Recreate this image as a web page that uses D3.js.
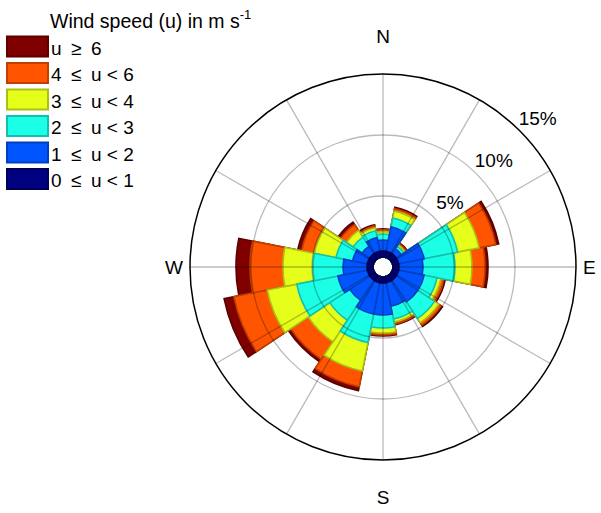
<!DOCTYPE html>
<html><head><meta charset="utf-8">
<script src="https://cdn.jsdelivr.net/npm/d3@7"></script>
<style>body{margin:0;background:#fff}svg{display:block}text{font-family:"Liberation Sans",Arial,Helvetica,sans-serif;fill:#000}</style>
</head><body><svg id="c" width="601" height="513"></svg>
<script>
// ---- data (percent frequency per direction and speed bin) ----
const directions = ["N","NNE","NE","ENE","E","ESE","SE","SSE","S","SSW","SW","WSW","W","WNW","NW","NNW"];
const speedLabels = ["0\u2002\u2264\u2002u < 1","1\u2002\u2264\u2002u < 2","2\u2002\u2264\u2002u < 3","3\u2002\u2264\u2002u < 4","4\u2002\u2264\u2002u < 6","u\u2002\u2265\u20026"];
const freq0to1 = [0.49,0.49,0.49,0.49,0.49,0.49,0.49,0.49,0.49,0.49,0.49,0.49,0.49,0.49,0.49,0.49];
const freq1to2 = [0.90,2.05,0.49,2.13,1.97,2.13,2.13,1.97,2.62,2.62,1.97,2.46,1.97,1.23,0.74,1.15];
const freq2to3 = [0.49,0.74,0.25,2.79,2.62,1.07,1.64,1.07,1.07,2.38,1.97,3.44,2.46,1.39,0.90,0.57];
const freq3to4 = [0.20,0.57,0.16,1.80,1.39,0.33,0.41,0.25,0.41,2.38,2.13,2.46,2.46,1.80,0.66,0.25];
const freq4to6 = [0.16,0.20,0.12,1.39,1.07,0.25,0.25,0.16,0.16,1.31,1.72,2.79,2.70,1.07,0.57,0.16];
const freq6up  = [0.08,0.12,0.08,0.25,0.25,0.12,0.12,0.08,0.08,0.33,0.25,0.82,1.15,0.33,0.25,0.08];
const ringTicks = [5,10,15];
const compass = ["N","E","S","W"];
const legendTitle = "Wind speed (u) in m s";
const fills = ["#000080","#0055ff","#1affe6","#e6ff1a","#ff5500","#800000"];
const edges = ["#000050","#0040c0","#14bfac","#acbf14","#bf4000","#5a0000"];

const series = [freq0to1,freq1to2,freq2to3,freq3to4,freq4to6,freq6up];
const cx = 383, cy = 267, r0 = 10, R = 193;
const svg = d3.select("#c");
const rScale = d3.scaleLinear().domain([0, 15]).range([r0, R]);
const nDir = directions.length, step = 360 / nDir;
const rad = d => d * Math.PI / 180;

// cumulative sums
const cum = directions.map((d, i) => {
  let s = 0; return series.map(arr => (s += arr[i]));
});

const g = svg.append("g").attr("transform", `translate(${cx},${cy})`);
const arc = d3.arc();
for (let j = series.length - 1; j >= 0; j--) {
  g.append("g").selectAll("path").data(directions).join("path")
    .attr("d", (d, i) => arc({innerRadius: r0, outerRadius: rScale(cum[i][j]),
      startAngle: rad(i * step - step / 2), endAngle: rad(i * step + step / 2)}))
    .attr("fill", fills[j]).attr("stroke", edges[j]).attr("stroke-width", 1.6)
    .attr("stroke-linejoin", "miter");
}

// grid overlay
const grid = g.append("g").attr("fill", "none").attr("stroke", "#000").attr("stroke-opacity", 0.27).attr("stroke-width", 1.3);
grid.selectAll("circle").data(ringTicks.slice(0, -1)).join("circle").attr("r", d => rScale(d));
grid.selectAll("line").data(d3.range(0, 360, 30)).join("line")
  .attr("x1", a => r0 * Math.sin(rad(a))).attr("y1", a => -r0 * Math.cos(rad(a)))
  .attr("x2", a => R * Math.sin(rad(a))).attr("y2", a => -R * Math.cos(rad(a)));
g.append("circle").attr("r", rScale(15)).attr("fill", "none").attr("stroke", "#000").attr("stroke-width", 1.5);

// percent labels
const labA = rad(46);
g.selectAll("text.pct").data(ringTicks).join("text").attr("class", "pct")
  .attr("x", t => (rScale(t) + 22) * Math.sin(labA))
  .attr("y", t => -(rScale(t) + 22) * Math.cos(labA))
  .attr("dy", "0.36em").attr("text-anchor", "middle").attr("font-size", 19)
  .text(t => t + "%");

// compass labels
const cpos = {N: [0, -R - 31, "middle"], S: [0, R + 44, "middle"], E: [R + 7, 7, "start"], W: [-R - 7, 7, "end"]};
g.selectAll("text.cmp").data(compass).join("text").attr("class", "cmp")
  .attr("x", d => cpos[d][0]).attr("y", d => cpos[d][1]).attr("text-anchor", d => cpos[d][2])
  .attr("font-size", 19).text(d => d);

// legend
const title = svg.append("text").attr("x", 50).attr("y", 28).attr("font-size", 19.5).text(legendTitle);
title.append("tspan").attr("font-size", 13).attr("dy", -9).text("-1");
const order = d3.range(series.length).reverse();
const lg = svg.append("g");
lg.selectAll("rect").data(order).join("rect")
  .attr("x", 7).attr("y", (j, k) => 36.5 + k * 26.5).attr("width", 41).attr("height", 20)
  .attr("fill", j => fills[j]).attr("stroke", j => edges[j]).attr("stroke-width", 2);
lg.selectAll("text").data(order).join("text")
  .attr("x", 51).attr("y", (j, k) => 54.5 + k * 26.5).attr("font-size", 19)
  .text(j => speedLabels[j]);
</script></body></html>
